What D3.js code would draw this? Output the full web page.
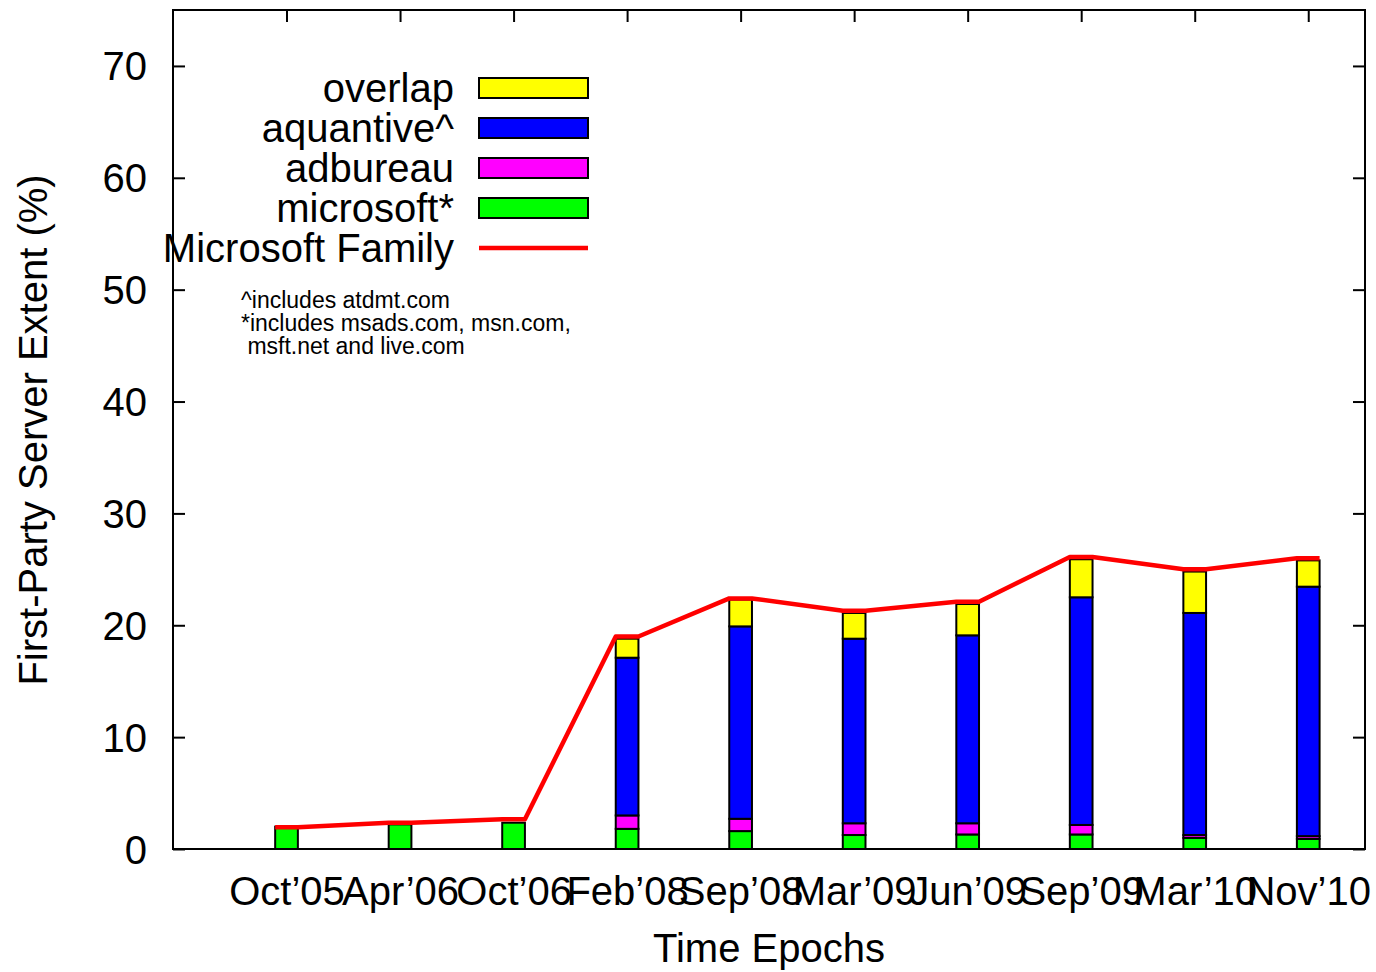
<!DOCTYPE html>
<html>
<head>
<meta charset="utf-8">
<title>First-Party Server Extent</title>
<script src="https://d3js.org/d3.v7.min.js"></script>
<style>
  body { margin: 0; background: #fff; }
  text { font-family: "Liberation Sans", Arial, sans-serif; fill: #000; }
</style>
</head>
<body>
<div id="my_dataviz"></div>
<script>

  // data
  var epochs = ["Oct\u201905", "Apr\u201906", "Oct\u201906", "Feb\u201908", "Sep\u201908",
                "Mar\u201909", "Jun\u201909", "Sep\u201909", "Mar\u201910", "Nov\u201910"];
  var microsoft = [2.0, 2.2, 2.35, 1.8, 1.6, 1.25, 1.3, 1.3, 1.0, 0.9];
  var adbureau  = [0, 0, 0, 1.2, 1.1, 1.05, 1.0, 0.85, 0.25, 0.25];
  var aquantive = [0, 0, 0, 14.1, 17.2, 16.5, 16.8, 20.35, 19.85, 22.3];
  var overlap   = [0, 0, 0, 1.7, 2.4, 2.3, 2.8, 3.4, 3.7, 2.35];
  var family    = [1.95, 2.35, 2.65, 19.0, 22.4, 21.3, 22.1, 26.1, 25.0, 26.0];
  var yTicks = [0, 10, 20, 30, 40, 50, 60, 70];

  var seriesNames = ["microsoft", "adbureau", "aquantive", "overlap"];
  var seriesColors = { microsoft: "#00ff00", adbureau: "#ff00ff", aquantive: "#0000ff", overlap: "#ffff00" };

  // set the dimensions and margins of the graph
  var W = 1376, H = 972;
  var margin = { top: 10, right: 11, bottom: 123, left: 173 },
    width = W - margin.left - margin.right,
    height = H - margin.top - margin.bottom;
  var bigFont = "40px";

  var svg = d3.select("#my_dataviz")
    .append("svg")
    .attr("width", W)
    .attr("height", H)
    .append("g")
    .attr("transform", "translate(" + margin.left + "," + margin.top + ")");

  // x is a linear scale: epoch i sits at i + 1, range ends at 10.5
  var x = d3.scaleLinear().domain([0, 10.5]).range([0, width]);
  var y = d3.scaleLinear().domain([0, 75]).range([height, 0]);
  var barHalf = 0.1;

  // axes first (bars cover the bottom ticks), ticks inward and mirrored
  var tickLen = 12;
  var xt = d3.range(1, epochs.length + 1);

  var yAxisL = svg.append("g").call(d3.axisLeft(y).tickValues(yTicks).tickSize(-tickLen).tickPadding(tickLen + 14));
  var yAxisR = svg.append("g").attr("transform", "translate(" + width + ",0)")
    .call(d3.axisRight(y).tickValues(yTicks).tickSize(-tickLen).tickFormat(""));
  var xAxisB = svg.append("g").attr("transform", "translate(0," + height + ")")
    .call(d3.axisBottom(x).tickValues(xt).tickSize(-tickLen).tickPadding(tickLen + 16)
      .tickFormat(function (d) { return epochs[d - 1]; }));
  var xAxisT = svg.append("g")
    .call(d3.axisTop(x).tickValues(xt).tickSize(-tickLen).tickFormat(""));

  [yAxisL, yAxisR, xAxisB, xAxisT].forEach(function (a) {
    a.select(".domain").remove();
    a.selectAll(".tick line").attr("stroke", "#000").attr("stroke-width", 2);
    a.selectAll("text").style("font-size", bigFont).style("font-family", "Liberation Sans, Arial, sans-serif");
  });
  yAxisL.selectAll("text").attr("dy", "0.35em");

  // stacked table
  var table = epochs.map(function (e, i) {
    return { epoch: e, i: i, microsoft: microsoft[i], adbureau: adbureau[i], aquantive: aquantive[i], overlap: overlap[i] };
  });
  var stacked = d3.stack().keys(seriesNames)(table);

  stacked.forEach(function (layer) {
    svg.append("g")
      .selectAll("rect")
      .data(layer.filter(function (d) { return d[1] - d[0] > 0; }))
      .enter()
      .append("rect")
      .attr("x", function (d) { return x(d.data.i + 1 - barHalf); })
      .attr("width", function (d) { return x(d.data.i + 1 + barHalf) - x(d.data.i + 1 - barHalf); })
      .attr("y", function (d) { return y(d[1]); })
      .attr("height", function (d) { return y(d[0]) - y(d[1]); })
      .attr("fill", seriesColors[layer.key])
      .attr("stroke", "#000")
      .attr("stroke-width", 2);
  });

  // family line, flat over each bar
  var linePts = [];
  family.forEach(function (v, i) {
    linePts.push([i + 1 - barHalf, v]);
    linePts.push([i + 1 + barHalf, v]);
  });
  svg.append("path")
    .datum(linePts)
    .attr("fill", "none")
    .attr("stroke", "#ff0000")
    .attr("stroke-width", 4.5)
    .attr("stroke-linejoin", "round")
    .attr("d", d3.line().x(function (d) { return x(d[0]); }).y(function (d) { return y(d[1]); }));

  // frame
  svg.append("rect")
    .attr("x", 0).attr("y", 0)
    .attr("width", width).attr("height", height)
    .attr("fill", "none")
    .attr("stroke", "#000")
    .attr("stroke-width", 2);

  // axis titles
  svg.append("text")
    .attr("x", 769 - margin.left)
    .attr("y", 962 - margin.top)
    .attr("text-anchor", "middle")
    .style("font-size", bigFont)
    .text("Time Epochs");

  svg.append("text")
    .attr("transform", "translate(" + (47 - margin.left) + "," + (430 - margin.top) + ") rotate(-90)")
    .attr("text-anchor", "middle")
    .style("font-size", bigFont)
    .text("First-Party Server Extent (%)");

  // legend
  var legendItems = [
    { label: "overlap", key: "overlap" },
    { label: "aquantive^", key: "aquantive" },
    { label: "adbureau", key: "adbureau" },
    { label: "microsoft*", key: "microsoft" },
    { label: "Microsoft Family", key: "line" }
  ];
  var legend = svg.append("g").attr("transform", "translate(" + (454 - margin.left) + "," + (88 - margin.top) + ")");
  legendItems.forEach(function (d, i) {
    var g = legend.append("g").attr("transform", "translate(0," + (i * 40) + ")");
    g.append("text")
      .attr("x", 0).attr("y", 14)
      .attr("text-anchor", "end")
      .style("font-size", bigFont)
      .text(d.label);
    if (d.key === "line") {
      g.append("line")
        .attr("x1", 25).attr("x2", 134).attr("y1", 0).attr("y2", 0)
        .attr("stroke", "#ff0000").attr("stroke-width", 4.5);
    } else {
      g.append("rect")
        .attr("x", 25).attr("y", -10).attr("width", 109).attr("height", 20)
        .attr("fill", seriesColors[d.key])
        .attr("stroke", "#000").attr("stroke-width", 2);
    }
  });

  // footnote
  var notes = ["^includes atdmt.com", "*includes msads.com, msn.com,", " msft.net and live.com"];
  var note = svg.append("text")
    .attr("x", 241 - margin.left)
    .attr("y", 308 - margin.top)
    .attr("xml:space", "preserve")
    .style("font-size", "23px");
  notes.forEach(function (t, i) {
    note.append("tspan")
      .attr("x", 241 - margin.left)
      .attr("dy", i === 0 ? 0 : 23)
      .text(t);
  });

</script>
</body>
</html>
